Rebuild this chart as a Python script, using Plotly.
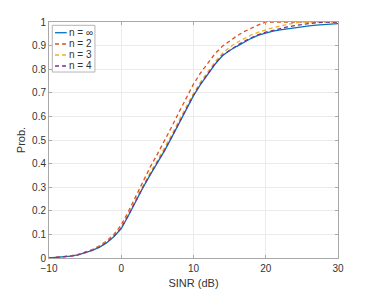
import plotly.graph_objects as go

sinr_db = [-10, -9, -8, -7, -6, -5, -4, -3, -2, -1, 0, 1, 2, 3, 4, 5, 6, 7, 8, 9, 10,
           11, 12, 13, 14, 15, 16, 17, 18, 19, 20, 21, 22, 23, 24, 25, 26, 27, 28, 29, 30]

prob_inf = [0.0, 0.002, 0.004, 0.008, 0.013, 0.021, 0.032, 0.046, 0.065, 0.091, 0.125,
            0.18, 0.24, 0.298, 0.352, 0.403, 0.455, 0.512, 0.572, 0.63, 0.688,
            0.737, 0.78, 0.822, 0.857, 0.879, 0.897, 0.915, 0.931, 0.944, 0.954,
            0.961, 0.967, 0.972, 0.977, 0.981, 0.984, 0.987, 0.989, 0.991, 0.993]

prob_n2 = [0.0, 0.002, 0.005, 0.009, 0.015, 0.024, 0.036, 0.052, 0.073, 0.101, 0.14,
           0.198, 0.262, 0.326, 0.385, 0.44, 0.497, 0.557, 0.618, 0.68, 0.737,
           0.785, 0.828, 0.867, 0.897, 0.92, 0.941, 0.959, 0.974, 0.988, 1.0,
           1.0, 1.0, 1.0, 1.0, 1.0, 1.0, 1.0, 1.0, 1.0, 1.0]

prob_n3 = [0.0, 0.002, 0.004, 0.008, 0.014, 0.022, 0.034, 0.049, 0.069, 0.096, 0.13,
           0.187, 0.248, 0.307, 0.362, 0.413, 0.466, 0.523, 0.583, 0.641, 0.698,
           0.747, 0.79, 0.832, 0.867, 0.893, 0.913, 0.93, 0.945, 0.957, 0.967,
           0.976, 0.983, 0.99, 0.996, 1.0, 1.0, 1.0, 1.0, 1.0, 1.0]

prob_n4 = [0.0, 0.002, 0.004, 0.008, 0.013, 0.022, 0.033, 0.047, 0.066, 0.093, 0.127,
           0.182, 0.242, 0.3, 0.354, 0.405, 0.457, 0.514, 0.574, 0.632, 0.69,
           0.739, 0.782, 0.824, 0.859, 0.881, 0.9, 0.918, 0.934, 0.947, 0.957,
           0.965, 0.972, 0.979, 0.985, 0.99, 0.994, 0.997, 0.999, 1.0, 1.0]

series_names = ["n = ∞", "n = 2", "n = 3", "n = 4"]
series_values = [prob_inf, prob_n2, prob_n3, prob_n4]
series_colors = ["#0072BD", "#D95319", "#EDB120", "#7E2F8E"]
series_dash = ["solid", "4px,3px", "4px,3px", "4px,3px"]

x_ticks = [-10, 0, 10, 20, 30]
y_ticks = [0, 0.1, 0.2, 0.3, 0.4, 0.5, 0.6, 0.7, 0.8, 0.9, 1]
y_tick_text = ["0", "0.1", "0.2", "0.3", "0.4", "0.5", "0.6", "0.7", "0.8", "0.9", "1"]

FONT = "Liberation Sans, Arial, sans-serif"
TXT = "#333333"

fig = go.Figure()
for name, vals, col, dash in zip(series_names, series_values, series_colors, series_dash):
    fig.add_trace(go.Scatter(x=sinr_db, y=vals, mode="lines", name=name,
                             line=dict(color=col, width=1.3, dash=dash),
                             showlegend=False))

# compact MATLAB-style legend box (top-left, inside axes)
leg_x0, leg_x1 = 0.0114, 0.159
leg_y0, leg_y1 = 0.788, 0.986
leg_rows = [0.9546, 0.9068, 0.8602, 0.8136]
shapes = [dict(type="rect", xref="paper", yref="paper", x0=leg_x0, x1=leg_x1,
               y0=leg_y0, y1=leg_y1, line=dict(color="#b4b4b4", width=1),
               fillcolor="white", layer="above")]
annotations = []
for name, col, dash, ry in zip(series_names, series_colors, series_dash, leg_rows):
    shapes.append(dict(type="line", xref="paper", yref="paper", x0=0.0208, x1=0.0612,
                       y0=ry, y1=ry, line=dict(color=col, width=1.3, dash=dash),
                       layer="above"))
    annotations.append(dict(xref="paper", yref="paper", x=0.063, y=ry, text=name,
                            showarrow=False, xanchor="left", yanchor="middle",
                            font=dict(family=FONT, size=10, color=TXT)))

axis_common = dict(
    showgrid=True, gridcolor="#ebebeb", gridwidth=1,
    showline=True, linecolor="#a8a8a8", linewidth=1, mirror="ticks",
    ticks="inside", ticklen=3, tickcolor="#a8a8a8",
    zeroline=False,
    tickfont=dict(family=FONT, size=10, color=TXT),
)

fig.update_layout(
    width=366, height=282,
    margin=dict(l=41, r=36, t=14, b=32, autoexpand=False),
    paper_bgcolor="white", plot_bgcolor="white",
    font=dict(family=FONT, size=10, color=TXT),
    xaxis=dict(range=[-10, 30], tickvals=x_ticks, ticklabelstandoff=1,
               title=dict(text="SINR (dB)", font=dict(size=11, color=TXT), standoff=6),
               **axis_common),
    yaxis=dict(range=[0, 1], tickvals=y_ticks, ticktext=y_tick_text,
               title=dict(text="Prob.", font=dict(size=11, color=TXT), standoff=4),
               **axis_common),
    shapes=shapes,
    annotations=annotations,
    showlegend=False,
)

fig.write_html("out.html")
